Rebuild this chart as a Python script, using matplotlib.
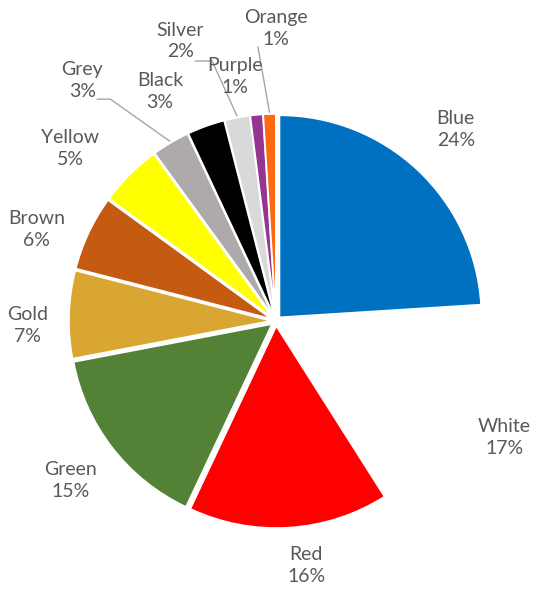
import numpy as np
import matplotlib
matplotlib.use("Agg")
import matplotlib.pyplot as plt

# ─── data ──────────────────────────────────────────────────────
colours_name = ["Blue", "White", "Red", "Green", "Gold", "Brown",
                "Yellow", "Grey", "Black", "Silver", "Purple", "Orange"]
share_pct    = [24, 17, 16, 15, 7, 6, 5, 3, 3, 2, 1, 1]
fill_colours = ["#0070C0", "#FFFFFF", "#FF0000", "#538135", "#D9A632",
                "#C55A11", "#FFFF00", "#AEAAAA", "#000000", "#D9D9D9",
                "#953590", "#FF6A10"]

# label placement: (angle in deg, distance in radii); None -> wedge middle
label_angle  = [None, None, -83, None, 181, 159, 140, 128.8, 116.8, 108.9, 99.5, 90]
label_dist   = [1.30, 1.27, 1.22, 1.29, 1.23, 1.27, 1.33, 1.53, 1.275, 1.465, 1.225, 1.45]
# leader lines: label-side start offset (px) and elbow length (px)
leader       = {"Grey": ((15, -19), 13), "Silver": ((15, -20), 17), "Orange": ((-18, -19), 0)}

# ─── figure ────────────────────────────────────────────────────
W, H   = 535, 589
CX, CY = 276, H - 321
R      = 202
EXPL   = 0.025 * R          # pie.explode works in data units

plt.rcParams["font.family"] = ["Lato", "DejaVu Sans"]
fig = plt.figure(figsize=(W / 100, H / 100), dpi=100)
ax = fig.add_axes([0, 0, 1, 1])

wedges, _ = ax.pie(
    share_pct, colors=fill_colours, startangle=90, counterclock=False,
    center=(CX, CY), radius=R, explode=[EXPL] * len(share_pct),
    wedgeprops=dict(edgecolor="white", linewidth=1.2),
    frame=True,
)
ax.set_xlim(0, W)
ax.set_ylim(0, H)
ax.set_aspect("equal")
ax.axis("off")

for w, name, pct, ang, dist in zip(wedges, colours_name, share_pct,
                                   label_angle, label_dist):
    mid = (w.theta1 + w.theta2) / 2
    a = np.deg2rad(mid if ang is None else ang)
    lx = CX + dist * R * np.cos(a)
    ly = CY + dist * R * np.sin(a)
    ax.text(lx, ly, f"{name}\n{pct}%", ha="center", va="center",
            ma="center", fontsize=14, color="#595959", linespacing=1.35)

    if name in leader:
        (ox, oy), elbow = leader[name]
        wx, wy = w.center
        m = np.deg2rad(mid)
        ex = wx + (R + 2) * np.cos(m)
        ey = wy + (R + 2) * np.sin(m)
        xs = [lx + ox, lx + ox + elbow, ex]
        ys = [ly + oy, ly + oy, ey]
        ax.plot(xs, ys, color="#A6A6A6", lw=1)

fig.savefig("out.png", dpi=100)
